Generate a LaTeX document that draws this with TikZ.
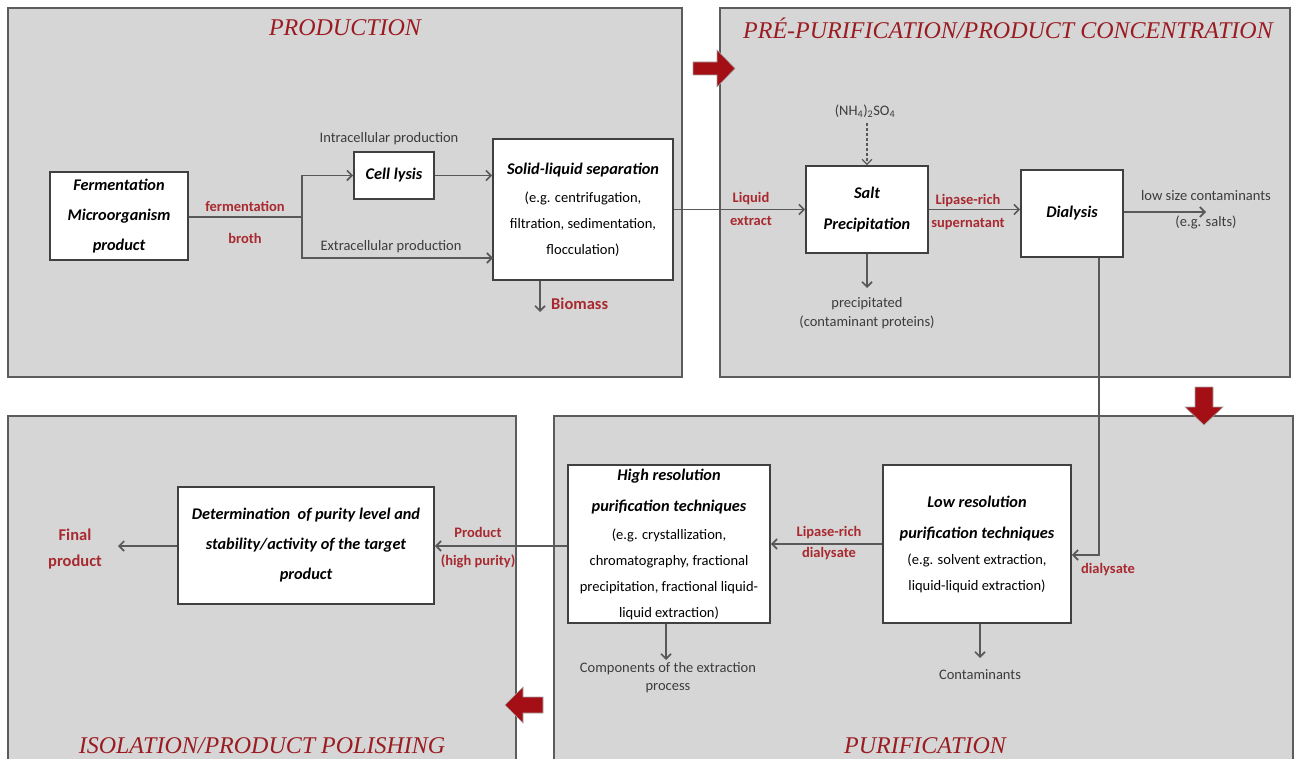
\documentclass[tikz,border=0pt]{standalone}
\usepackage{fontspec}
\setmainfont{Carlito}
\newfontfamily\titlefont{Liberation Serif}
\usetikzlibrary{arrows.meta,calc}

\definecolor{panelfill}{HTML}{D6D6D6}
\definecolor{paneledge}{HTML}{5C5C5C}
\definecolor{flow}{HTML}{595959}
\definecolor{labelred}{HTML}{A82A30}
\definecolor{titlered}{HTML}{9A1C22}
\definecolor{blockred}{HTML}{A30F15}
\definecolor{note}{HTML}{3C3C3C}

% bold italic heading inside a stage box
\newcommand{\boxhead}[1]{{\fontsize{16.3}{26}\selectfont\bfseries\itshape #1}}

\begin{document}
\begin{tikzpicture}[x=1pt,y=-1pt,
  panel/.style={draw=paneledge,line width=1.9pt,fill=panelfill},
  stagebox/.style={draw=black!75,line width=1.7pt,fill=white,inner sep=0pt,
    align=center,text=black,font=\fontsize{14.5}{26}\selectfont},
  headbox/.style={stagebox,font=\fontsize{16.3}{30}\selectfont\bfseries\itshape},
  flowline/.style={draw=flow,line width=1.7pt},
  flowarrow/.style={flowline,-{Straight Barb[length=5pt,width=10pt]}},
  notetext/.style={text=note,align=center,inner sep=0pt,font=\fontsize{14.5}{19}\selectfont},
  redlabel/.style={text=labelred,align=center,inner sep=0pt,font=\fontsize{14.5}{23}\selectfont\bfseries},
  stagetitle/.style={text=titlered,inner sep=0pt,font=\titlefont\itshape\fontsize{24}{24}\selectfont},
  blockarrow/.style={fill=blockred,draw=black!35,line width=0.6pt}
]
\useasboundingbox (0,0) rectangle (1295,759);
\fill[white] (0,0) rectangle (1295,759);
\clip (0,0) rectangle (1295,759);

% stage panels
\draw[panel] (8,8) rectangle (682,377);
\draw[panel] (720,8) rectangle (1290,377);
\draw[panel] (554,416) rectangle (1293,775);
\draw[panel] (8,416) rectangle (516,775);

% stage titles
\node[stagetitle] (t-prod) at (345,28) {PRODUCTION};
\node[stagetitle] (t-pre) at (1008,28) {PRÉ-PURIFICATION/PRODUCT CONCENTRATION};
\node[stagetitle] (t-pur) at (925,746) {PURIFICATION};
\node[stagetitle] (t-iso) at (262,746) {ISOLATION/PRODUCT POLISHING};

% transitions between stages
\filldraw[blockarrow] (693,62) -- (717,62) -- (717,50) -- (735,68.5) -- (717,87) -- (717,75) -- (693,75) -- cycle;
\filldraw[blockarrow] (1195,387) -- (1213,387) -- (1213,407) -- (1223,407) -- (1204,425) -- (1185,407) -- (1195,407) -- cycle;
\filldraw[blockarrow] (543,697) -- (523,697) -- (523,687) -- (505,705) -- (523,723) -- (523,713) -- (543,713) -- cycle;

% production
\node[headbox,minimum width=138,minimum height=88]
  (ferm) at (119,216) {Fermentation\\Microorganism\\product};
\node[headbox,minimum width=80,minimum height=47]
  (lysis) at (394,175.5) {Cell lysis};
\node[stagebox,minimum width=180,minimum height=141]
  (sls) at (583,209.5) {\boxhead{Solid-liquid separation}\\[2pt]
  (e.g. centrifugation,\\filtration, sedimentation,\\flocculation)};

\coordinate (split) at (302,217);
\coordinate (sls-ext) at (493,258);
\coordinate (biomass) at (540,312);
\draw[flowline] (ferm.east |- split) -- (split);
\draw[flowarrow] (split) |- (lysis.west);
\draw[flowarrow] (split) |- (sls-ext);
\draw[flowarrow] (lysis.east) -- (lysis.east -| sls.west);
\draw[flowarrow] (sls.south -| biomass) -- (biomass);

\node[redlabel,font=\fontsize{14.5}{32}\selectfont\bfseries] (l-broth) at (245,222) {fermentation\\broth};
\node[notetext] (l-intra) at (389,139) {Intracellular production};
\node[notetext] (l-extra) at (391,247) {Extracellular production};
\node[redlabel,anchor=west,font=\fontsize{16.5}{18}\selectfont\bfseries] (l-biomass) at (551,304) {Biomass};

% pre-purification
\node[headbox,minimum width=122,minimum height=87,font=\fontsize{16.3}{31}\selectfont\bfseries\itshape]
  (salt) at (867,209.5) {Salt\\Precipitation};
\node[headbox,minimum width=102,minimum height=87]
  (dial) at (1072,213.5) {Dialysis};
\node[notetext] (nh4) at (865,111) {(NH\textsubscript{4})\textsubscript{2}SO\textsubscript{4}};
\coordinate (lowsize) at (1206,212);
\coordinate (precip) at (867,288);

\draw[flowarrow] (sls.east) -- (salt.west);
\draw[flowarrow,dash pattern=on 3pt off 2pt,line width=1.2pt] (nh4.south -| salt.north) ++(0,5) -- (salt.north);
\draw[flowarrow] (salt.east) -- (salt.east -| dial.west);
\draw[flowarrow] (dial.east |- lowsize) -- (lowsize);
\draw[flowarrow] (salt.south) -- (precip);

\node[redlabel] (l-liquid) at (751,209) {Liquid\\extract};
\node[redlabel] (l-super) at (968,212) {Lipase-rich\\supernatant};
\node[notetext,font=\fontsize{14.5}{26}\selectfont] (l-lowsize) at (1206,210) {low size contaminants\\(e.g. salts)};
\node[notetext] (l-precip) at (867,313) {precipitated\\(contaminant proteins)};

% purification
\node[stagebox,minimum width=188,minimum height=158]
  (lowres) at (977,544) {\boxhead{Low resolution}\\[5pt]
  \boxhead{purification techniques}\\
  (e.g. solvent extraction,\\liquid-liquid extraction)};
\node[stagebox,minimum width=202,minimum height=158]
  (highres) at (669,544) {\boxhead{High resolution}\\[5pt]
  \boxhead{purification techniques}\\[2pt]
  (e.g. crystallization,\\chromatography, fractional\\precipitation, fractional liquid-\\liquid extraction)};

\coordinate (dial-down) at (1099,555);
\coordinate (contam) at (980,658);
\coordinate (compon) at (666,660);
\draw[flowarrow] (dial.south -| dial-down) -- (dial-down) -- (dial-down -| lowres.east);
\draw[flowarrow] (lowres.west) -- (highres.east);
\draw[flowarrow] (lowres.south -| contam) -- (contam);
\draw[flowarrow] (highres.south -| compon) -- (compon);

\node[redlabel] (l-dialysate) at (1108,570) {dialysate};
\node[redlabel,font=\fontsize{14.5}{21}\selectfont\bfseries] (l-lipdial) at (829,543) {Lipase-rich\\dialysate};
\node[notetext] (l-contam) at (980,675) {Contaminants};
\node[notetext,font=\fontsize{14.5}{18}\selectfont] (l-compon) at (668,678) {Components of the extraction\\process};

% isolation / polishing
\node[headbox,minimum width=256,minimum height=117]
  (determ) at (306,545.5) {Determination~ of purity level and\\stability/activity of the target\\product};
\coordinate (final) at (118,546);
\draw[flowarrow] (highres.west |- final) -- (determ.east |- final);
\draw[flowarrow] (determ.west |- final) -- (final);

\node[redlabel,font=\fontsize{14.5}{28}\selectfont\bfseries] (l-product) at (478,548) {Product\\(high purity)};
\node[redlabel,font=\fontsize{16.5}{26}\selectfont\bfseries] (l-final) at (75,549) {Final\\product};
\end{tikzpicture}
\end{document}
